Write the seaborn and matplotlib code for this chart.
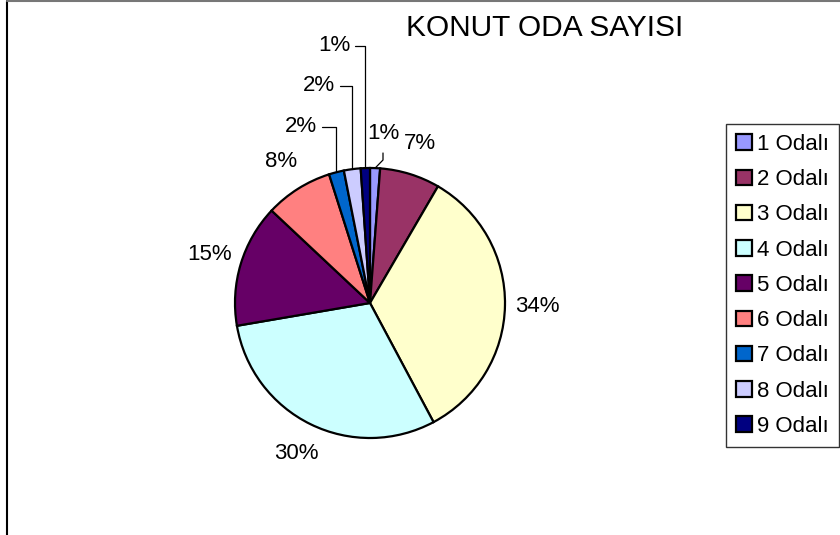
import numpy as np
import matplotlib
matplotlib.use("Agg")
import matplotlib.pyplot as plt
import seaborn as sns
from matplotlib.patches import Rectangle
from matplotlib.lines import Line2D

categories = ["1 Odalı", "2 Odalı", "3 Odalı", "4 Odalı", "5 Odalı",
              "6 Odalı", "7 Odalı", "8 Odalı", "9 Odalı"]
values = [1.2, 7.2, 33.8, 30.1, 14.7, 8.1, 1.8, 2.0, 1.1]
colors = ["#9999FF", "#993366", "#FFFFCC", "#CCFFFF", "#660066",
          "#FF8080", "#0066CC", "#CCCCFF", "#000080"]
title = "KONUT ODA SAYISI"

sns.set_theme(style="white")
plt.rcParams["font.family"] = ["Liberation Sans", "DejaVu Sans"]
plt.rcParams["text.color"] = "black"

W, H = 840, 535
CX, CY, R = 370, 303, 135
fig = plt.figure(figsize=(W / 100, H / 100), dpi=100)
ax = fig.add_axes([0, 0, 1, 1])
ax.axis("off")


def px(x, y):
    return ((x - CX) / R, (CY - y) / R)


wedges, _ = ax.pie(values, colors=colors, startangle=90, counterclock=False,
                   radius=1, center=(0, 0), normalize=True,
                   wedgeprops=dict(edgecolor="black", linewidth=1.6))
ax.set_xlim(-CX / R, (W - CX) / R)
ax.set_ylim(-(H - CY) / R, CY / R)

total = sum(values)
cum = np.cumsum([0] + values[:-1]) / total
mids = cum + np.array(values) / total / 2
angles = np.deg2rad(90 - 360 * mids)

# label layout for small slices (pixel positions of label text centres)
small_labels = {0: (383, 134), 6: (301, 127), 7: (319, 86), 8: (334, 46)}
fs = 16
for i, (v, a) in enumerate(zip(values, angles)):
    txt = f"{round(v)}%"
    ex, ey = np.cos(a), np.sin(a)
    if i in small_labels:
        lx, ly = px(*small_labels[i])
        ax.text(lx, ly, txt, ha="center", va="center", fontsize=fs, color="black")
        if i == 0:
            x0, y0 = px(small_labels[i][0], 153)
            x1, y1 = px(small_labels[i][0], 160)
            ax.plot([x0, x1, ex], [y0, y1, ey], color="black", lw=0.9)
        else:
            sx = lx + 21 / R
            ax.plot([sx, ex, ex], [ly, ly, ey], color="black", lw=0.9)
    else:
        r = 1.24
        ax.text(r * ex, r * ey, txt, ha="center", va="center", fontsize=fs, color="black")

fig.text(545 / W, 1 - 28 / H, title, ha="center", va="center", fontsize=21.5,
         color="black")

handles = [Rectangle((0, 0), 1, 1, facecolor=c, edgecolor="black", linewidth=1.6)
           for c in colors]
leg = fig.legend(handles, categories, loc="upper left",
                 bbox_to_anchor=(726 / W, 1 - 124 / H),
                 bbox_transform=fig.transFigure,
                 fontsize=fs, frameon=True, fancybox=False,
                 borderpad=0.45, handlelength=0.7, handleheight=0.7,
                 handletextpad=0.25, labelspacing=0.64, borderaxespad=0,
                 labelcolor="black")
leg.get_frame().set_edgecolor("black")
leg.get_frame().set_linewidth(1.0)

# outer chart frame (top and left edges visible)
fig.add_artist(Line2D([7 / W, 7 / W], [0, 1 - 1 / H], transform=fig.transFigure,
                      color="black", lw=1.5))
fig.add_artist(Line2D([7 / W, 1], [1 - 1 / H, 1 - 1 / H], transform=fig.transFigure,
                      color="#777777", lw=1.5))

fig.savefig("out.png", dpi=100)
